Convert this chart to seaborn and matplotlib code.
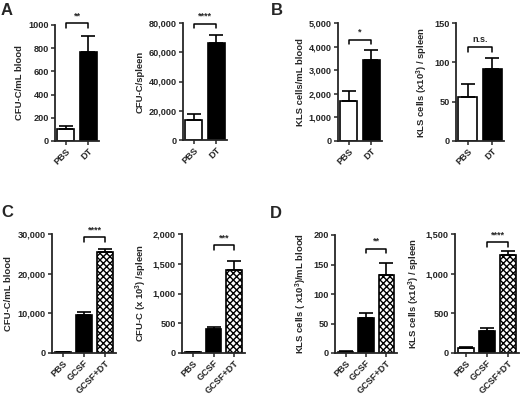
import matplotlib
matplotlib.use("Agg")
import matplotlib.pyplot as plt
import seaborn as sns
import numpy as np
from matplotlib.ticker import FuncFormatter

sns.set_style("ticks")
plt.rcParams["font.family"] = ["Liberation Sans", "DejaVu Sans"]
plt.rcParams["font.weight"] = "bold"
plt.rcParams["mathtext.fontset"] = "custom"
plt.rcParams["mathtext.rm"] = "Liberation Sans:bold"
plt.rcParams["mathtext.bf"] = "Liberation Sans:bold"
plt.rcParams["mathtext.default"] = "bf"
plt.rcParams["hatch.linewidth"] = 1.0

# data
groups_2 = ["PBS", "DT"]
groups_3 = ["PBS", "GCSF", "GCSF+DT"]

a1_mean, a1_err = [105, 765], [28, 140]
a2_mean, a2_err = [13500, 66500], [4000, 5500]
b1_mean, b1_err = [1700, 3420], [420, 450]
b2_mean, b2_err = [56, 92], [17, 14]
c1_mean, c1_err = [150, 9700, 25500], [40, 600, 800]
c2_mean, c2_err = [15, 400, 1390], [5, 35, 160]
d1_mean, d1_err = [2, 60, 133], [1, 7, 20]
d2_mean, d2_err = [65, 280, 1230], [10, 30, 55]

ylabels = [
    "CFU-C/mL blood", "CFU-C/spleen",
    "KLS cells/mL blood", "KLS cells (x10$^{3}$) / spleen",
    "CFU-C/mL blood", "CFU-C (x 10$^{3}$) /spleen",
    "KLS cells ( x10$^{3}$)/mL blood", "KLS cells (x10$^{3}$) / spleen",
]
ytops = [1000, 80000, 5000, 150, 30000, 2000, 200, 1500]
ysteps = [200, 20000, 1000, 50, 10000, 500, 50, 500]
use_commas = [False, True, True, False, True, True, False, True]
stars = ["**", "****", "*", "n.s.", "****", "***", "**", "****"]
bracket_y = [1015, 79500, 4300, 119.5, 29150, 1808, 177, 1394]

panels = [
    (groups_2, a1_mean, a1_err), (groups_2, a2_mean, a2_err),
    (groups_2, b1_mean, b1_err), (groups_2, b2_mean, b2_err),
    (groups_3, c1_mean, c1_err), (groups_3, c2_mean, c2_err),
    (groups_3, d1_mean, d1_err), (groups_3, d2_mean, d2_err),
]

# axes boxes in pixels: left, right, top, bottom
W, H = 520, 395
boxes = [
    (55, 99, 25, 141), (183, 227, 23, 140),
    (338, 382, 23, 141), (456, 504, 23, 141),
    (52, 116, 234, 353), (182, 245, 234, 353),
    (335, 397, 235, 353), (455, 519, 234, 353),
]

fig = plt.figure(figsize=(W / 100, H / 100), dpi=100)

for i, ((cats, mean, err), box) in enumerate(zip(panels, boxes)):
    l, r, t, b = box
    ax = fig.add_axes([l / W, 1 - b / H, (r - l) / W, (b - t) / H])
    if len(cats) == 2:
        colors = ["white", "black"]
    else:
        colors = ["white", "black", "white"]
    sns.barplot(x=cats, y=mean, hue=cats, palette=colors, legend=False,
                edgecolor="black", linewidth=1.2, width=0.76, ax=ax)
    if len(cats) == 3:
        ax.patches[2].set_hatch("xxxxx")
    xs = np.arange(len(cats))
    ax.errorbar(xs, mean, yerr=[np.zeros(len(err)), err], fmt="none",
                ecolor="black", elinewidth=1.2, capsize=5, capthick=1.2, zorder=1)
    ax.set_ylim(0, ytops[i])
    ax.set_yticks(np.arange(0, ytops[i] + 1, ysteps[i]))
    if use_commas[i]:
        ax.yaxis.set_major_formatter(FuncFormatter(lambda v, p: f"{int(v):,}"))
    ax.set_ylabel(ylabels[i], fontsize=6.8, fontweight="bold", labelpad=3)
    ax.set_xlabel("")
    ax.tick_params(axis="both", labelsize=6.6, width=1.1, length=3, pad=1.5)
    ax.tick_params(axis="x", pad=1)
    plt.setp(ax.get_xticklabels(), rotation=45, ha="right",
             rotation_mode="anchor", fontweight="bold")
    plt.setp(ax.get_yticklabels(), fontweight="bold")
    for s in ["left", "bottom"]:
        ax.spines[s].set_linewidth(1.3)
    sns.despine(ax=ax)

    # significance bracket between the last two groups
    x0, x1 = len(cats) - 2, len(cats) - 1
    yb = bracket_y[i]
    drop = ytops[i] * 0.04
    ax.plot([x0, x0, x1, x1], [yb - drop, yb, yb, yb - drop], color="black",
            lw=1.1, clip_on=False)
    ax.text((x0 + x1) / 2, yb + ytops[i] * 0.025, stars[i], ha="center",
            va="bottom", fontsize=6.5, fontweight="bold", clip_on=False)

for lab, (x, y) in zip("ABCD", [(1, 3), (271, 3), (1, 205), (270, 206)]):
    fig.text(x / W, 1 - y / H, lab, fontsize=12, fontweight="bold",
             ha="left", va="top")

fig.savefig("out.png", dpi=100)
